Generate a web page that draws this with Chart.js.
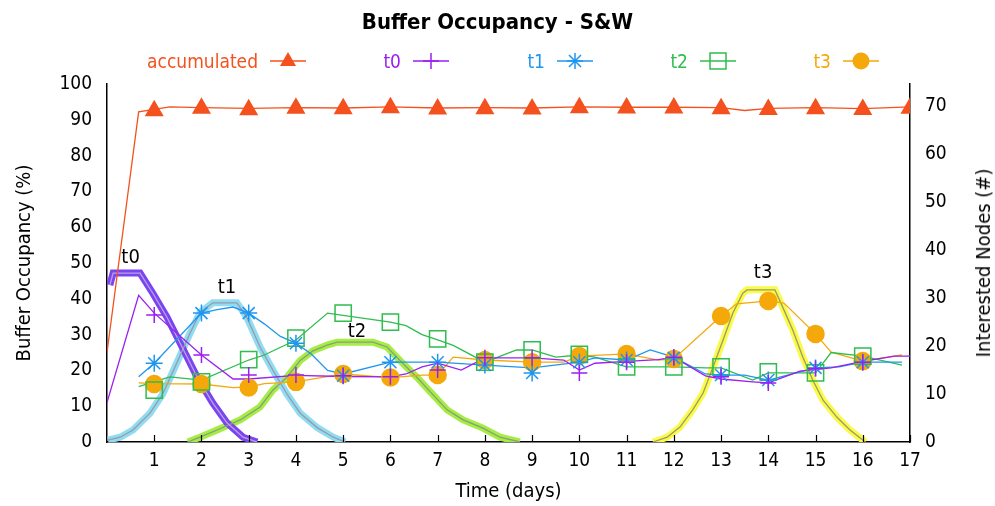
<!DOCTYPE html>
<html>
<head>
<meta charset="utf-8">
<script src="https://cdn.jsdelivr.net/npm/chart.js@4.4.0/dist/chart.umd.min.js"></script>
<style>
html,body{margin:0;padding:0;background:#fff;}
#wrap{position:relative;width:995px;height:506px;overflow:hidden;font-family:"DejaVu Sans Condensed","Liberation Sans",sans-serif;}
#title{position:absolute;left:0;top:9px;width:995px;text-align:center;font-weight:bold;font-size:22px;color:#000;}
.lgt{position:absolute;font-size:19px;line-height:24px;text-align:right;white-space:nowrap;}
.lgs{position:absolute;}
#y2title{position:absolute;left:983px;top:263px;transform:translate(-50%,-50%) rotate(-90deg);font-size:20px;white-space:nowrap;color:#000;}
canvas{position:absolute;left:0;top:0;}
</style>
</head>
<body>
<div id="wrap">
<canvas id="c" width="995" height="506"></canvas>
<div id="title">Buffer Occupancy - S&amp;W</div>
<div id="y2title">Interested Nodes (#)</div>
</div>
<script>
// ---------- DATA ----------
const chartTitle = "Buffer Occupancy - S&W";
const xTickValues = [1,2,3,4,5,6,7,8,9,10,11,12,13,14,15,16,17];
const markerDays = [1,2,3,4,5,6,7,8,9,10,11,12,13,14,15,16];
const seriesNames = ["accumulated","t0","t1","t2","t3"];

// buffer occupancy lines (%), left axis
const accX = [0,0.67,1.33,2,3,4,5,6,7,8,9,10,11,12,13,13.5,14,15,16,17];
const accY = [25,92.2,93.6,93.4,93.2,93.4,93.3,93.6,93.3,93.4,93.3,93.6,93.5,93.5,93.4,92.6,93.2,93.4,93.1,93.6];
const accM = [92.5,93.2,92.8,93.2,93.1,93.4,93.0,93.1,93.0,93.4,93.3,93.3,93.1,92.9,93.1,92.9,93.2];

const t0X = [0,0.67,1,2,2.67,3,4,5,6,6.33,6.67,7,7.5,8,9,9.67,10,10.33,11,11.67,12,12.67,13,13.67,14,14.67,15.33,16,16.67,17];
const t0Y = [11,41,36,24.3,17.6,17.6,18.6,18.3,18.2,19,21,22,20.1,23.5,23.5,22.9,20.1,22,22.5,23,23.7,18.5,17.6,16.8,16.5,19.8,20.7,22.5,24,24];
const t0M = [35.5,24.3,18.7,18.7,18.5,18.2,20.1,23.5,23.5,19.3,22.3,23.7,18.2,16.5,20.5,22.3];

const t1X = [0.67,1,2,2.33,2.67,3,3.33,3.67,4,4.33,4.67,5,6,6.67,7,8,9,10,10.33,11,11.5,12,12.67,13,13.5,14,15,15.5,16,16.83];
const t1Y = [18.2,22,36,37,37.7,36,33,29.5,27.6,24.5,20,19,22.3,22.3,22.3,21.5,20.7,22.3,23.5,22.9,25.7,23.7,19,18.7,18.7,17.3,20.7,21,22.3,22.3];
const t1M = [22,36,36,27.6,18.5,22.3,22.3,21.5,19.3,22.3,22.9,23.5,18.7,17.3,20.7,22.3];

const t2X = [0.67,1.33,2,3,3.33,4,4.67,6,6.33,6.67,7,7.33,8,8.67,9,9.5,10,10.33,11,12,12.67,13,13.67,14,14.33,15,15.33,16,16.83];
const t2Y = [15.5,18.2,17.3,22.9,24.3,28.5,36,33.5,32.5,30,28.5,27,22.3,25.7,25.7,23.7,24.3,23.7,21,21,20.7,20.7,17.3,19.3,19.3,19.3,25,24,21.5];
const t2M = [14.5,16.8,23,29,36,33.5,28.8,22.3,25.7,24.5,21,21,21,19.6,19.3,24];

const t3X = [0.67,1,2,2.67,3,3.33,4,5,6,6.67,7,7.33,8,9,9.67,10,11,11.67,12,13,13.33,14,14.33,15,15.33,16,16.83];
const t3Y = [16.5,16.3,16.2,15.2,15.3,16.3,16.8,19,18,18.7,18.7,23.7,22.9,22.3,22.3,24,24.6,22.9,23.2,35.2,38.6,39.4,38.8,30.2,25.1,22.6,24.3];
const t3M = [16.2,16.2,15.2,16.8,19,18,18.7,22.9,22.3,24,24.6,23.2,35.2,39.4,30.2,22.6];

// interested nodes (#), right axis
const n0X = [0.06,0.13,0.7,0.97,1.27,1.59,1.91,2.24,2.54,2.88,3.18];
const n0Y = [32.7,35.2,35.2,31,26,19.8,13.5,8.1,4,1,0];
const n1X = [0.02,0.28,0.55,0.91,1.18,1.48,1.76,1.97,2.24,2.75,2.96,3.24,3.51,3.81,4.09,4.45,4.79,5.04];
const n1Y = [0.4,1,2.5,6,10,16.5,22.7,27,29,29,26,19.8,15,10,6,3,1,0];
const n2X = [1.71,1.97,2.33,2.82,3.24,3.51,3.81,4.09,4.36,4.66,4.87,5.63,5.93,6.2,6.56,6.84,7.2,7.54,7.96,8.32,8.74];
const n2Y = [0,1,2.5,4.6,7.3,10.8,13.5,17,19,20.2,20.8,20.8,19.8,17,13.5,10.5,6.7,4.6,2.9,1,0];
const n3X = [11.56,11.86,12.13,12.4,12.62,12.83,13.04,13.25,13.46,13.55,14.14,14.31,14.52,14.73,14.94,15.16,15.45,15.73,16.0,16.05];
const n3Y = [0,1,3.1,6.7,10.2,15.6,21.2,26.9,31,31.7,31.7,28,23.3,17.7,12.9,8.7,5.2,2.5,0.4,0];

// peak labels (data coordinates on the right axis)
const peakLabels = ["t0","t1","t2","t3"];
const peakX = [0.5,2.54,5.29,13.89];
const peakY = [38.3,32.1,23,35.2];

// ---------- STYLE ----------
const FONT = '"DejaVu Sans Condensed","Liberation Sans",sans-serif';
const colors = {accumulated:'#f4511e', t0:'#9b1ff0', t1:'#1e96ef', t2:'#2ebd4e', t3:'#f5a80a'};
const thick = [
  {outer:'#7a45ee', inner:'#b9a2e8'},
  {outer:'#8fdcf3', inner:'#9a9aa6'},
  {outer:'#a4ee44', inner:'#8f9a80'},
  {outer:'#fafa48', inner:'#9a9a70'}
];

const pts = (xs, ys) => xs.map((x,i)=>({x:x, y:ys[i]}));
const lineDs = (xs, ys, color, axis, width, order) => ({
  data: pts(xs, ys), borderColor: color, backgroundColor: color, borderWidth: width,
  pointRadius: 0, yAxisID: axis, order: order, tension: 0, fill: false
});
const markDs = (days, vals, color, style, r, filled) => ({
  data: pts(days, vals), showLine: false, yAxisID: 'y', order: 0,
  pointStyle: style, pointRadius: r, pointHoverRadius: r,
  borderColor: color, backgroundColor: filled ? color : 'rgba(0,0,0,0)', pointBorderWidth: 1.5
});

const datasets = [
  markDs(xTickValues, accM, colors.accumulated, 'triangle', 9.5, true),
  markDs(markerDays, t0M, colors.t0, 'cross', 8, false),
  markDs(markerDays, t1M, colors.t1, 'star', 8.5, false),
  markDs(markerDays, t2M, colors.t2, 'rect', 11.5, false),
  markDs(markerDays, t3M, colors.t3, 'circle', 8.5, true),
  lineDs(accX, accY, colors.accumulated, 'y', 1.3, 1),
  lineDs(t0X, t0Y, colors.t0, 'y', 1.3, 1),
  lineDs(t1X, t1Y, colors.t1, 'y', 1.3, 1),
  lineDs(t2X, t2Y, colors.t2, 'y', 1.3, 1),
  lineDs(t3X, t3Y, colors.t3, 'y', 1.3, 1),
];
[[n0X,n0Y],[n1X,n1Y],[n2X,n2Y],[n3X,n3Y]].forEach((s,i)=>{
  datasets.push(lineDs(s[0], s[1], thick[i].inner, 'y2', 1.3, 2));
  datasets.push(lineDs(s[0], s[1], thick[i].outer, 'y2', 7, 3));
});

const extras = {
  id: 'extras',
  afterDatasetsDraw(chart) {
    const {ctx, chartArea, scales} = chart;
    ctx.save();
    ctx.strokeStyle = '#000'; ctx.lineWidth = 1.2;
    xTickValues.forEach(v => {
      const px = Math.round(scales.x.getPixelForValue(v)) + 0.5;
      ctx.beginPath(); ctx.moveTo(px, chartArea.bottom); ctx.lineTo(px, chartArea.bottom - 7); ctx.stroke();
    });
    ctx.fillStyle = '#000'; ctx.font = '20px ' + FONT;
    ctx.textAlign = 'center'; ctx.textBaseline = 'middle';
    peakLabels.forEach((t,i) => ctx.fillText(t, scales.x.getPixelForValue(peakX[i]), scales.y2.getPixelForValue(peakY[i])));
    ctx.restore();
  }
};

Chart.defaults.font.family = FONT;
Chart.defaults.font.size = 20;
Chart.defaults.color = '#000';

new Chart(document.getElementById('c'), {
  type: 'line',
  data: { datasets: datasets },
  options: {
    responsive: false, animation: false, devicePixelRatio: 1,
    layout: { padding: { top: 84, left: 0, right: 0, bottom: 0 } },
    plugins: { legend: { display: false }, title: { display: false }, tooltip: { enabled: false } },
    scales: {
      x: {
        type: 'linear', min: 0, max: 17,
        grid: { display: false, drawTicks: false },
        border: { display: true, color: '#000', width: 1.5 },
        ticks: { stepSize: 1, padding: 8, font: { size: 19 } },
        afterBuildTicks: s => { s.ticks = xTickValues.map(v => ({value: v})); },
        afterFit: s => { s.height = 64; },
        title: { display: true, text: 'Time (days)', font: { size: 20 }, padding: { top: 0, bottom: 2 } }
      },
      y: {
        position: 'left', min: 0, max: 100,
        grid: { display: false, drawTicks: false },
        border: { display: true, color: '#000', width: 1.5 },
        ticks: { stepSize: 10, padding: 15, font: { size: 19 } },
        afterFit: s => { s.width = 107; },
        title: { display: true, text: 'Buffer Occupancy (%)', font: { size: 20 }, padding: { top: 13, bottom: 0 } }
      },
      y2: {
        position: 'right', min: 0, max: 74.6,
        grid: { display: false, drawTicks: false },
        border: { display: true, color: '#000', width: 1.5 },
        ticks: { stepSize: 10, padding: 15, font: { size: 19 } },
        afterBuildTicks: s => { s.ticks = s.ticks.filter(t => Math.abs(t.value % 10) < 1e-6); },
        afterFit: s => { s.width = 85; }
      }
    }
  },
  plugins: [extras]
});

// ---------- HTML legend ----------
const legendStyles = [
  {name: seriesNames[0], textEnd: 258, marker: 'triangle'},
  {name: seriesNames[1], textEnd: 401, marker: 'plus'},
  {name: seriesNames[2], textEnd: 545, marker: 'star'},
  {name: seriesNames[3], textEnd: 688, marker: 'square'},
  {name: seriesNames[4], textEnd: 831, marker: 'circle'}
];
const wrap = document.getElementById('wrap');
const LY = 61;
legendStyles.forEach(it => {
  const col = colors[it.name];
  const t = document.createElement('div');
  t.className = 'lgt'; t.textContent = it.name; t.style.color = col;
  t.style.right = (995 - it.textEnd) + 'px'; t.style.top = (LY - 12) + 'px';
  wrap.appendChild(t);
  const x0 = it.textEnd + 12, w = 36, cx = w / 2, cy = 12;
  let m = '';
  if (it.marker === 'triangle') m = `<polygon points="${cx},${cy-9} ${cx+8},${cy+5} ${cx-8},${cy+5}" fill="${col}"/>`;
  if (it.marker === 'plus') m = `<path d="M${cx-8},${cy}H${cx+8}M${cx},${cy-8}V${cy+8}" stroke="${col}" stroke-width="1.5"/>`;
  if (it.marker === 'star') m = `<path d="M${cx-8},${cy}H${cx+8}M${cx},${cy-8}V${cy+8}M${cx-6},${cy-6}L${cx+6},${cy+6}M${cx-6},${cy+6}L${cx+6},${cy-6}" stroke="${col}" stroke-width="1.5"/>`;
  if (it.marker === 'square') m = `<rect x="${cx-8}" y="${cy-8}" width="16" height="16" fill="none" stroke="${col}" stroke-width="1.5"/>`;
  if (it.marker === 'circle') m = `<circle cx="${cx}" cy="${cy}" r="8.5" fill="${col}"/>`;
  const s = document.createElement('div');
  s.className = 'lgs'; s.style.left = x0 + 'px'; s.style.top = (LY - 12) + 'px';
  s.innerHTML = `<svg width="${w}" height="24"><line x1="0" y1="${cy}" x2="${w}" y2="${cy}" stroke="${col}" stroke-width="1.3"/>${m}</svg>`;
  wrap.appendChild(s);
});
</script>
</body>
</html>
